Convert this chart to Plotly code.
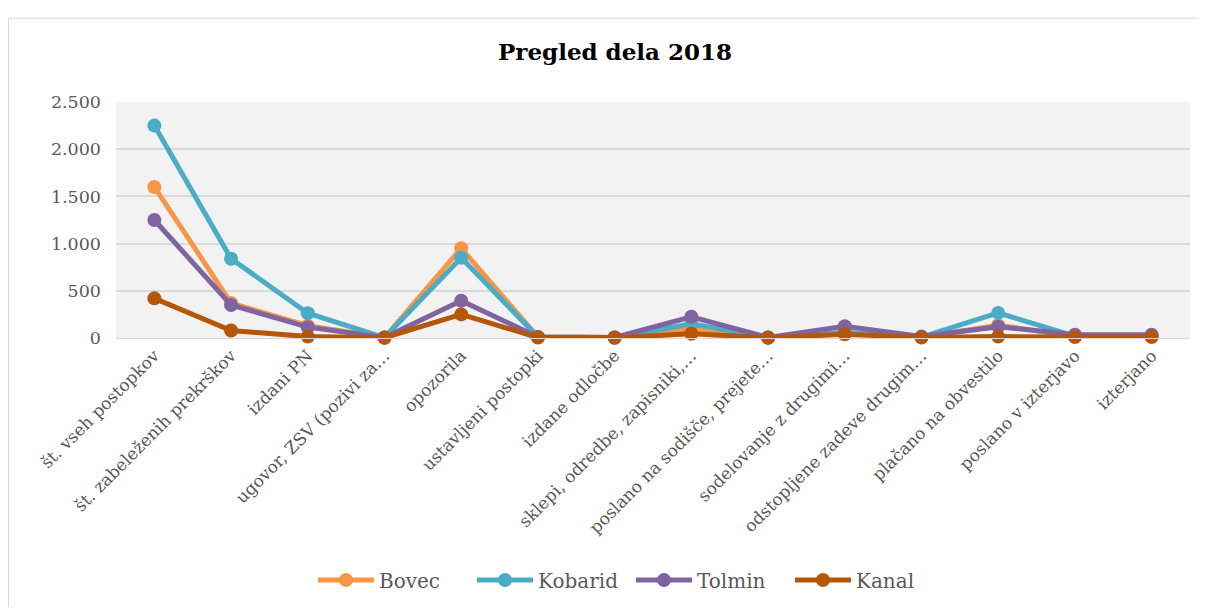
import plotly.graph_objects as go

categories = ["št. vseh postopkov", "št. zabeleženih prekrškov", "izdani PN",
              "ugovor, ZSV (pozivi za…", "opozorila", "ustavljeni postopki",
              "izdane odločbe", "sklepi, odredbe, zapisniki,…",
              "poslano na sodišče, prejete…", "sodelovanje z drugimi…",
              "odstopljene zadeve drugim…", "plačano na obvestilo",
              "poslano v izterjavo", "izterjano"]

bovec = [1600, 370, 130, 5, 950, 10, 5, 100, 5, 50, 10, 135, 20, 20]
kobarid = [2250, 840, 263, 5, 850, 10, 5, 150, 5, 60, 10, 266, 20, 20]
tolmin = [1250, 350, 115, 5, 395, 10, 5, 225, 5, 125, 15, 120, 35, 35]
kanal = [420, 80, 15, 3, 250, 5, 3, 45, 3, 40, 5, 15, 10, 10]

series = [("Bovec", bovec, "#F79646"), ("Kobarid", kobarid, "#4BACC6"),
          ("Tolmin", tolmin, "#8064A2"), ("Kanal", kanal, "#B65708")]

FONT = "DejaVu Serif"
fig = go.Figure()
for name, vals, col in series:
    fig.add_trace(go.Scatter(x=categories, y=vals, name=name, mode="lines+markers",
                             line=dict(color=col, width=5),
                             marker=dict(color=col, size=14),
                             cliponaxis=False))

OFF = 8  # page offset of the plot div (body margin)
W, H = 1206 - 2 * OFF, 615 - 2 * OFF
# desired plot area in page pixels
PL, PR, PT, PB = 116, 1190, 102, 340
L = PL - OFF
T = PT - OFF
R = W - (PR - OFF)
B = H - (PB - OFF)
pw, ph = W - L - R, H - T - B


def px(xpage):
    return (xpage - OFF - L) / pw


def py(ypage):
    return (H - B - (ypage - OFF)) / ph


border = dict(color="#D9D9D9", width=1)
fig.update_layout(
    width=W, height=H,
    margin=dict(l=L, r=R, t=T, b=B),
    paper_bgcolor="white", plot_bgcolor="#F2F2F2",
    separators=",.",
    font=dict(family=FONT, size=17, color="#595959"),
    title=dict(text="<b>Pregled dela 2018</b>", x=(615 - OFF) / W, xanchor="center",
               y=1 - (52 - OFF) / H, yanchor="middle",
               font=dict(family=FONT, size=23, color="black")),
    xaxis=dict(type="category", range=[-0.5, len(categories) - 0.5],
               tickangle=-45, showgrid=False, showline=True,
               linecolor="#D9D9D9", linewidth=1, ticks="", automargin=False,
               tickfont=dict(family=FONT, size=17, color="#595959")),
    yaxis=dict(range=[0, 2500], dtick=500, tickformat=",d", showgrid=True,
               gridcolor="#D9D9D9", gridwidth=2, zeroline=False, ticks="",
               automargin=False, ticklabelstandoff=14,
               tickfont=dict(family=FONT, size=17.5, color="#595959")),
    legend=dict(orientation="h", x=px(631), xanchor="center", y=py(584),
                yanchor="middle", font=dict(family=FONT, size=20, color="#595959"),
                itemwidth=56, entrywidth=88, entrywidthmode="pixels",
                bgcolor="rgba(0,0,0,0)"),
    shapes=[dict(type="line", xref="paper", yref="paper",
                 x0=px(8), x1=px(1300), y0=py(17.5), y1=py(17.5), line=border,
                 layer="below"),
            dict(type="line", xref="paper", yref="paper",
                 x0=px(8.5), x1=px(8.5), y0=py(17), y1=py(700), line=border,
                 layer="below")],
)

fig.write_html("out.html")
